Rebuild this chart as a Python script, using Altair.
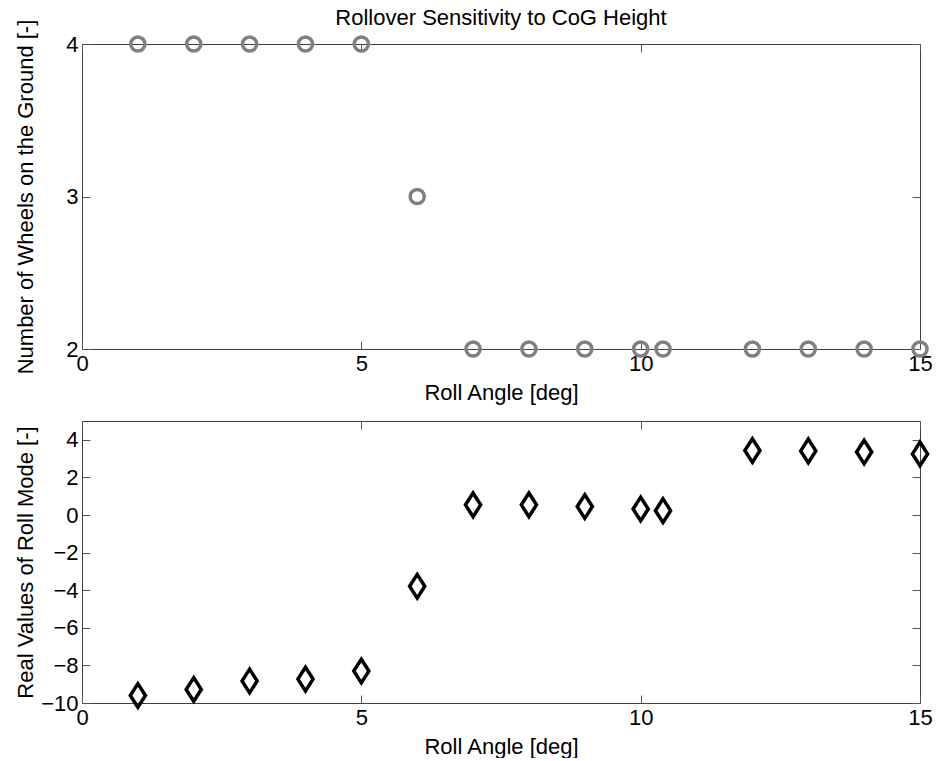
import altair as alt
import pandas as pd

# Roll angle sweep [deg]
roll_angle = [1, 2, 3, 4, 5, 6, 7, 8, 9, 10, 10.4, 12, 13, 14, 15]
# Number of wheels still touching the ground
wheels_on_ground = [4, 4, 4, 4, 4, 3, 2, 2, 2, 2, 2, 2, 2, 2, 2]
# Real part of the roll-mode eigenvalue
roll_mode_real = [-9.60, -9.28, -8.83, -8.73, -8.30, -3.79,
                  0.54, 0.54, 0.45, 0.32, 0.23, 3.43, 3.41, 3.35, 3.25]

x_ticks = [0, 5, 10, 15]
wheel_ticks = [2, 3, 4]
mode_ticks = [-10, -8, -6, -4, -2, 0, 2, 4]

df = pd.DataFrame({
    "angle": roll_angle,
    "wheels": wheels_on_ground,
    "mode": roll_mode_real,
})

FONT = "Liberation Sans"
FS = 22
TICK = 8
W = 838

x_scale = alt.Scale(domain=[0, 15], nice=False, zero=False)


def bottom_axis(title):
    return alt.Axis(values=x_ticks, orient="bottom", offset=-TICK, tickSize=TICK,
                    domain=False, grid=False, labelPadding=4, title=title,
                    titlePadding=8, labelFlush=False, labelOverlap=False,
                    labelExpr="format(datum.value, 'd')", tickCount=len(x_ticks))


def top_axis():
    return alt.Axis(values=x_ticks, orient="top", offset=-TICK, tickSize=TICK,
                    domain=False, grid=False, labels=False, title=None,
                    minExtent=0, maxExtent=0, tickCount=len(x_ticks))


def left_axis(values, title):
    return alt.Axis(values=values, orient="left", offset=-TICK, tickSize=TICK,
                    domain=False, grid=False, labelPadding=4, title=title,
                    titleX=-53, labelOverlap=False, labelFlush=False,
                    labelExpr="format(datum.value, 'd')", tickCount=len(values))


def right_axis(values):
    return alt.Axis(values=values, orient="right", offset=-TICK, tickSize=TICK,
                    domain=False, grid=False, labels=False, title=None,
                    minExtent=0, maxExtent=0, tickCount=len(values))


def panel(mark, field, y_scale, y_ticks, y_title, height, title=None):
    main = mark.encode(
        x=alt.X("angle:Q", scale=x_scale, axis=bottom_axis("Roll Angle [deg]")),
        y=alt.Y(f"{field}:Q", scale=y_scale, axis=left_axis(y_ticks, y_title)),
    )
    frame = mark.encode(
        x=alt.X("angle:Q", scale=x_scale, axis=top_axis()),
        y=alt.Y(f"{field}:Q", scale=y_scale, axis=right_axis(y_ticks)),
        opacity=alt.value(0),
    )
    props = dict(width=W, height=height)
    if title is not None:
        props["title"] = title
    return alt.layer(main, frame, data=df).resolve_axis(
        x="independent", y="independent").properties(**props)


circle_mark = alt.Chart().mark_point(
    shape="circle", filled=False, size=200, stroke="#808080",
    strokeWidth=3.5, opacity=1, clip=False)

diamond_mark = alt.Chart().mark_point(
    shape="M0,-1L0.64,0L0,1L-0.64,0Z", filled=False, size=560,
    stroke="#000000", strokeWidth=3.5, opacity=1, clip=False)

top = panel(
    circle_mark, "wheels",
    alt.Scale(domain=[2, 4], nice=False, zero=False),
    wheel_ticks, "Number of Wheels on the Ground [-]", 305,
    title=alt.TitleParams("Rollover Sensitivity to CoG Height", font=FONT,
                          fontSize=FS, fontWeight="normal", color="#000000",
                          anchor="middle", offset=-11),
)

bottom = panel(
    diamond_mark, "mode",
    alt.Scale(domain=[-10, 5], nice=False, zero=False),
    mode_ticks, "Real Values of Roll Mode [-]", 282,
)

chart = alt.vconcat(top, bottom, spacing=16).properties(
    padding={"left": 13, "top": 6, "right": 0, "bottom": 0},
    background="#ffffff",
).configure_view(
    stroke="#404040", strokeWidth=1,
).configure_axis(
    labelFont=FONT, titleFont=FONT, labelFontSize=FS, titleFontSize=FS,
    labelColor="#000000", titleColor="#000000", titleFontWeight="normal",
    tickColor="#555555", tickWidth=1,
)

chart.save("out.html", embed_options={"renderer": "svg", "actions": False})
